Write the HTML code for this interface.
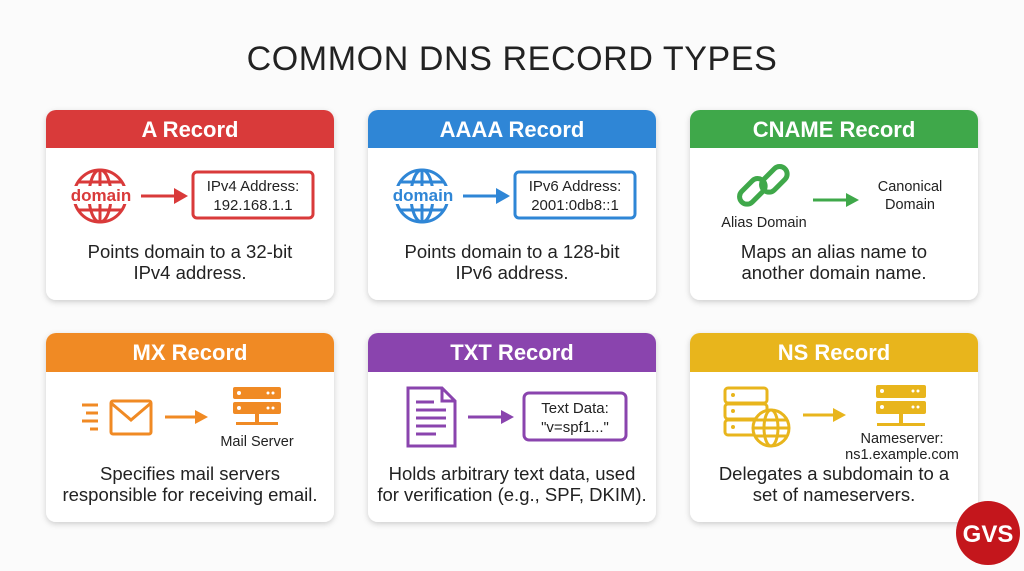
<!DOCTYPE html>
<html><head><meta charset="utf-8"><style>
html,body{margin:0;padding:0;background:#fbfbfb;width:1024px;height:571px;overflow:hidden}
svg{display:block}
text{font-family:"Liberation Sans",sans-serif}
</style></head><body>
<svg width="1024" height="571" viewBox="0 0 1024 571" xmlns="http://www.w3.org/2000/svg">
<defs>
<filter id="sh" x="-10%" y="-10%" width="120%" height="125%"><feDropShadow dx="0" dy="2" stdDeviation="3" flood-color="#000" flood-opacity="0.18"/></filter>
</defs>
<text x="512" y="70" text-anchor="middle" font-size="34" fill="#222" letter-spacing="0.6">COMMON DNS RECORD TYPES</text>

<g filter="url(#sh)">
<rect x="46" y="110" width="288" height="190" rx="10" fill="#fff"/>
<rect x="368" y="110" width="288" height="190" rx="10" fill="#fff"/>
<rect x="690" y="110" width="288" height="190" rx="10" fill="#fff"/>
<rect x="46" y="333" width="288" height="189" rx="10" fill="#fff"/>
<rect x="368" y="333" width="288" height="189" rx="10" fill="#fff"/>
<rect x="690" y="333" width="288" height="189" rx="10" fill="#fff"/>
</g>
<path d="M46 148V120a10 10 0 0 1 10-10h268a10 10 0 0 1 10 10v28z" fill="#d93a3a"/>
<path d="M368 148V120a10 10 0 0 1 10-10h268a10 10 0 0 1 10 10v28z" fill="#2f86d6"/>
<path d="M690 148V120a10 10 0 0 1 10-10h268a10 10 0 0 1 10 10v28z" fill="#3fa84a"/>
<path d="M46 372V343a10 10 0 0 1 10-10h268a10 10 0 0 1 10 10v29z" fill="#f08a24"/>
<path d="M368 372V343a10 10 0 0 1 10-10h268a10 10 0 0 1 10 10v29z" fill="#8a44ae"/>
<path d="M690 372V343a10 10 0 0 1 10-10h268a10 10 0 0 1 10 10v29z" fill="#e8b51c"/>
<g font-size="22" font-weight="bold" fill="#fff" text-anchor="middle">
<text x="190" y="137">A Record</text>
<text x="512" y="137">AAAA Record</text>
<text x="834" y="137">CNAME Record</text>
<text x="190" y="360">MX Record</text>
<text x="512" y="360">TXT Record</text>
<text x="834" y="360">NS Record</text>
</g>

<g stroke="#d93a3a" stroke-width="3" fill="none">
<circle cx="100" cy="196" r="26"/>
<ellipse cx="100" cy="196" rx="11" ry="26"/>
<line x1="100" y1="170" x2="100" y2="222"/>
<path d="M78 182h44M78 210h44"/>
<line x1="141" y1="196" x2="176" y2="196"/>
<rect x="193" y="172" width="120" height="46" rx="4"/>
</g>
<rect x="70" y="186" width="62" height="18" fill="#fff"/>
<text x="101" y="201" text-anchor="middle" font-size="17" font-weight="bold" fill="#d93a3a">domain</text>
<path d="M174 188l14 8l-14 8z" fill="#d93a3a"/>
<g font-size="15" fill="#222" text-anchor="middle"><text x="253" y="191">IPv4 Address:</text><text x="253" y="210">192.168.1.1</text></g>

<g stroke="#2f86d6" stroke-width="3" fill="none">
<circle cx="422" cy="196" r="26"/>
<ellipse cx="422" cy="196" rx="11" ry="26"/>
<line x1="422" y1="170" x2="422" y2="222"/>
<path d="M400 182h44M400 210h44"/>
<line x1="463" y1="196" x2="498" y2="196"/>
<rect x="515" y="172" width="120" height="46" rx="4"/>
</g>
<rect x="392" y="186" width="62" height="18" fill="#fff"/>
<text x="423" y="201" text-anchor="middle" font-size="17" font-weight="bold" fill="#2f86d6">domain</text>
<path d="M496 188l14 8l-14 8z" fill="#2f86d6"/>
<g font-size="15" fill="#222" text-anchor="middle"><text x="575" y="191">IPv6 Address:</text><text x="575" y="210">2001:0db8::1</text></g>

<g stroke="#3fa84a" stroke-width="5" fill="none" stroke-linecap="round">
<rect x="737" y="184" width="30" height="15" rx="7.5" transform="rotate(-45 752 191)"/>
<rect x="759" y="172" width="30" height="15" rx="7.5" transform="rotate(-45 774 179)"/>
</g>
<line x1="813" y1="200" x2="848" y2="200" stroke="#3fa84a" stroke-width="3"/>
<path d="M846 193l13 7l-13 7z" fill="#3fa84a"/>
<g font-size="14.5" fill="#222" text-anchor="middle">
<text x="764" y="227">Alias Domain</text>
<text x="910" y="191">Canonical</text><text x="910" y="209">Domain</text></g>

<g stroke="#f08a24" stroke-width="3" fill="none">
<rect x="111" y="401" width="40" height="33" rx="2"/>
<path d="M111 403l20 17l20-17"/>
<path d="M82 405h16M86 413h12M82 421h16M90 429h8"/>
<line x1="165" y1="417" x2="197" y2="417"/>
</g>
<path d="M195 410l13 7l-13 7z" fill="#f08a24"/>
<g fill="#f08a24">
<rect x="233" y="387" width="48" height="12" rx="2"/>
<rect x="233" y="402" width="48" height="12" rx="2"/>
<rect x="255" y="414" width="4" height="10"/>
<rect x="236" y="422" width="42" height="3"/>
</g>
<g fill="#fff"><circle cx="239" cy="393" r="2"/><circle cx="239" cy="408" r="2"/><circle cx="268" cy="393" r="1.5"/><circle cx="273" cy="393" r="1.5"/><circle cx="268" cy="408" r="1.5"/><circle cx="273" cy="408" r="1.5"/></g>
<text x="257" y="446" text-anchor="middle" font-size="14.5" fill="#222">Mail Server</text>

<g stroke="#8a44ae" stroke-width="3" fill="none">
<path d="M408 388h34l13 13v45h-47z"/>
<path d="M442 388v13h13"/>
<path d="M416 402h18M416 410h30M416 418h30M416 426h30M416 434h20"/>
<line x1="468" y1="417" x2="503" y2="417"/>
<rect x="524" y="393" width="102" height="47" rx="5"/>
</g>
<path d="M501 410l13 7l-13 7z" fill="#8a44ae"/>
<g font-size="15" fill="#222" text-anchor="middle"><text x="575" y="413">Text Data:</text><text x="575" y="432">"v=spf1..."</text></g>

<g stroke="#e8b51c" stroke-width="3" fill="none">
<rect x="725" y="388" width="42" height="15" rx="3"/>
<rect x="725" y="404" width="42" height="15" rx="3"/>
<rect x="725" y="420" width="42" height="15" rx="3"/>
<circle cx="771" cy="428" r="18" fill="#fff"/>
<ellipse cx="771" cy="428" rx="7" ry="18"/>
<path d="M753 428h36M756 420h30M756 436h30"/>
<line x1="803" y1="415" x2="835" y2="415"/>
</g>
<g fill="#e8b51c"><circle cx="733" cy="395" r="2"/><circle cx="733" cy="411" r="2"/><circle cx="733" cy="427" r="2"/></g>
<path d="M833 408l13 7l-13 7z" fill="#e8b51c"/>
<g fill="#e8b51c">
<rect x="876" y="385" width="50" height="13" rx="2"/>
<rect x="876" y="401" width="50" height="13" rx="2"/>
<rect x="899" y="414" width="4" height="11"/>
<rect x="877" y="423" width="48" height="3"/>
</g>
<g fill="#fff"><circle cx="882" cy="391" r="2"/><circle cx="882" cy="407" r="2"/><circle cx="913" cy="391" r="1.5"/><circle cx="918" cy="391" r="1.5"/><circle cx="913" cy="407" r="1.5"/><circle cx="918" cy="407" r="1.5"/></g>
<g font-size="14.5" fill="#222" text-anchor="middle"><text x="902" y="443">Nameserver:</text><text x="902" y="459">ns1.example.com</text></g>

<g font-size="18.5" fill="#222" text-anchor="middle">
<text x="190" y="258">Points domain to a 32-bit</text><text x="190" y="279">IPv4 address.</text>
<text x="512" y="258">Points domain to a 128-bit</text><text x="512" y="279">IPv6 address.</text>
<text x="834" y="258">Maps an alias name to</text><text x="834" y="279">another domain name.</text>
<text x="190" y="480">Specifies mail servers</text><text x="190" y="501">responsible for receiving email.</text>
<text x="512" y="480">Holds arbitrary text data, used</text><text x="512" y="501">for verification (e.g., SPF, DKIM).</text>
<text x="834" y="480">Delegates a subdomain to a</text><text x="834" y="501">set of nameservers.</text>
</g>

<circle cx="988" cy="533" r="32" fill="#c4161c"/>
<text x="988" y="542" text-anchor="middle" font-size="24" font-weight="bold" fill="#fff">GVS</text>
</svg>
</body></html>
